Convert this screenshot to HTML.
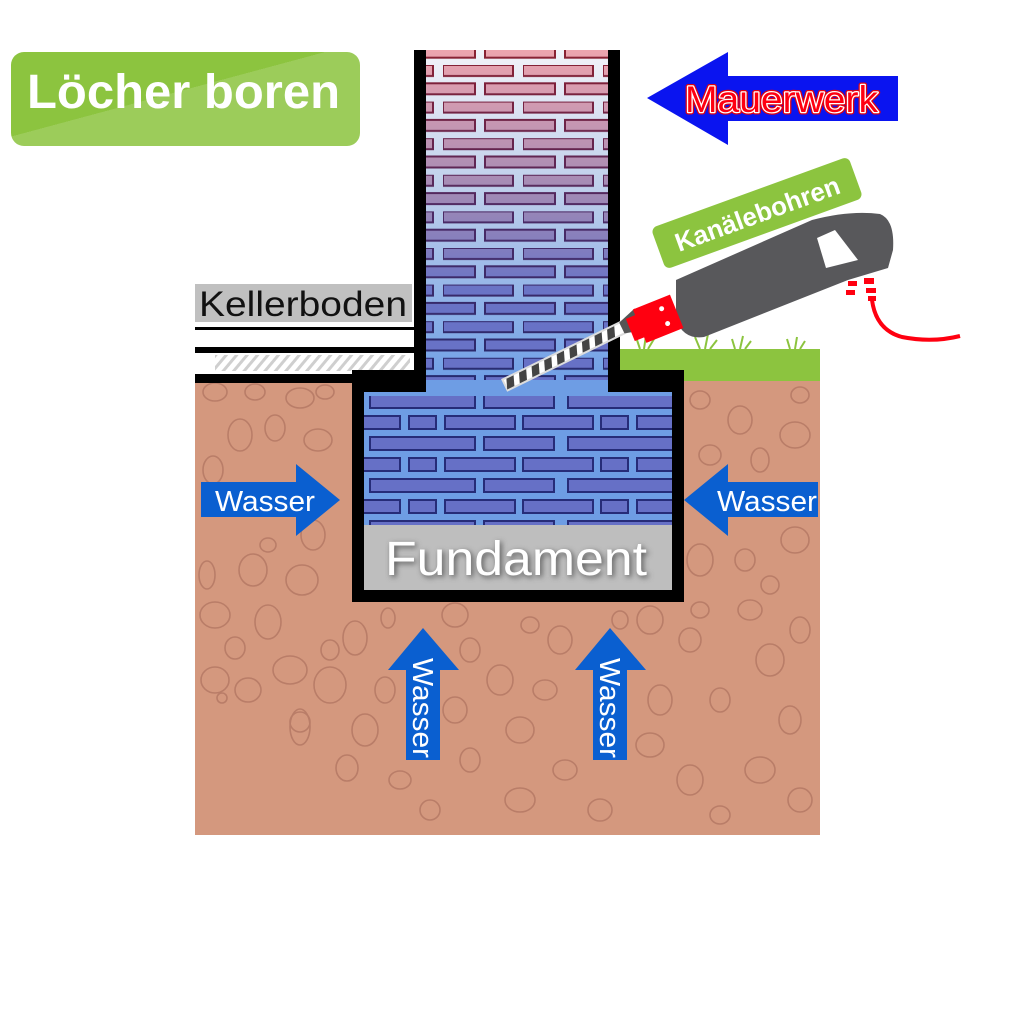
<!DOCTYPE html>
<html><head><meta charset="utf-8"><style>
html,body{margin:0;padding:0;background:#fff;}
svg{display:block;}
text{font-family:"Liberation Sans",sans-serif;}
</style></head><body>
<svg width="1024" height="1024" viewBox="0 0 1024 1024" xmlns="http://www.w3.org/2000/svg">
<defs>
<linearGradient id="mort" gradientUnits="userSpaceOnUse" x1="0" y1="50" x2="0" y2="390">
<stop offset="0" stop-color="#f2f2f8"/><stop offset="0.45" stop-color="#b9cbea"/><stop offset="1" stop-color="#6c9de6"/></linearGradient>
<linearGradient id="brk" gradientUnits="userSpaceOnUse" x1="0" y1="50" x2="0" y2="390">
<stop offset="0" stop-color="#eda4ae"/><stop offset="0.45" stop-color="#9c88b6"/><stop offset="0.7" stop-color="#6a74c6"/><stop offset="1" stop-color="#6670c6"/></linearGradient>
<linearGradient id="bst" gradientUnits="userSpaceOnUse" x1="0" y1="50" x2="0" y2="390">
<stop offset="0" stop-color="#8a1f30"/><stop offset="0.5" stop-color="#4a2a66"/><stop offset="1" stop-color="#232a70"/></linearGradient>
<pattern id="wp" patternUnits="userSpaceOnUse" x="443" y="65" width="80" height="36.6">
<rect x="0" y="0" width="70" height="11" fill="#fff"/>
<rect x="-38" y="18.3" width="70" height="11" fill="#fff"/>
<rect x="42" y="18.3" width="70" height="11" fill="#fff"/>
</pattern>
<pattern id="wps" patternUnits="userSpaceOnUse" x="443" y="65" width="80" height="36.6">
<rect x="0" y="0" width="70" height="11" fill="none" stroke="#fff" stroke-width="2"/>
<rect x="-38" y="18.3" width="70" height="11" fill="none" stroke="#fff" stroke-width="2"/>
<rect x="42" y="18.3" width="70" height="11" fill="none" stroke="#fff" stroke-width="2"/>
</pattern>
<mask id="m1"><rect x="0" y="0" width="1024" height="1024" fill="url(#wp)"/></mask>
<mask id="m2"><rect x="0" y="0" width="1024" height="1024" fill="url(#wps)"/></mask>
<pattern id="fp" patternUnits="userSpaceOnUse" x="364" y="392" width="310" height="42">
<g fill="#6670c6" stroke="#262c78" stroke-width="2">
<rect x="6" y="3" width="105" height="13"/><rect x="120" y="3" width="70" height="13"/><rect x="204" y="3" width="105" height="13"/>
<rect x="-4" y="24" width="40" height="13"/><rect x="45" y="24" width="27" height="13"/><rect x="81" y="24" width="70" height="13"/><rect x="159" y="24" width="70" height="13"/><rect x="237" y="24" width="27" height="13"/><rect x="273" y="24" width="40" height="13"/>
</g></pattern>
<pattern id="hatch" patternUnits="userSpaceOnUse" width="8" height="8" patternTransform="rotate(-50)">
<rect width="8" height="3" fill="#cfcfcf"/></pattern>
<linearGradient id="tg" x1="0" y1="0" x2="1" y2="1"><stop offset="0.45" stop-color="#8cc43f"/><stop offset="0.45" stop-color="#9ccc5a"/></linearGradient>
<filter id="sh"><feGaussianBlur stdDeviation="3"/></filter>
</defs>

<!-- Title -->
<rect x="11" y="52" width="349" height="94" rx="13" fill="url(#tg)"/>
<text x="27" y="108" font-size="48" font-weight="bold" fill="#fff" textLength="313" lengthAdjust="spacingAndGlyphs">Löcher boren</text>

<!-- Mauerwerk arrow -->
<polygon points="647,98 728,52 728,76 898,76 898,121 728,121 728,145" fill="#0a14f0"/>
<g font-size="37">
<text x="685" y="112" fill="#e00010" stroke="#e00010" stroke-width="5" stroke-linejoin="round" textLength="193" lengthAdjust="spacingAndGlyphs">Mauerwerk</text>
<text x="685" y="112" fill="#e00010" stroke="#fff" stroke-width="2.5" stroke-linejoin="round" textLength="193" lengthAdjust="spacingAndGlyphs">Mauerwerk</text>
<text x="685" y="112" fill="#ff0010" textLength="193" lengthAdjust="spacingAndGlyphs">Mauerwerk</text>
</g>

<!-- Soil -->
<rect x="195" y="378" width="625" height="457" fill="#d4987e"/>
<g fill="none" stroke="#b97d68" stroke-width="1.6">
<ellipse cx="215" cy="392" rx="12" ry="9"/><ellipse cx="255" cy="392" rx="10" ry="8"/><ellipse cx="300" cy="398" rx="14" ry="10"/><ellipse cx="325" cy="392" rx="9" ry="7"/>
<ellipse cx="240" cy="435" rx="12" ry="16"/><ellipse cx="275" cy="428" rx="10" ry="13"/><ellipse cx="318" cy="440" rx="14" ry="11"/><ellipse cx="213" cy="470" rx="10" ry="14"/>
<ellipse cx="313" cy="535" rx="12" ry="15"/><ellipse cx="268" cy="545" rx="8" ry="7"/><ellipse cx="253" cy="570" rx="14" ry="16"/><ellipse cx="302" cy="580" rx="16" ry="15"/>
<ellipse cx="207" cy="575" rx="8" ry="14"/><ellipse cx="215" cy="615" rx="15" ry="13"/><ellipse cx="268" cy="622" rx="13" ry="17"/><ellipse cx="235" cy="648" rx="10" ry="11"/>
<ellipse cx="290" cy="670" rx="17" ry="14"/><ellipse cx="330" cy="650" rx="9" ry="10"/><ellipse cx="355" cy="638" rx="12" ry="17"/><ellipse cx="215" cy="680" rx="14" ry="13"/>
<ellipse cx="248" cy="690" rx="13" ry="12"/><ellipse cx="330" cy="685" rx="16" ry="18"/><ellipse cx="222" cy="698" rx="5" ry="5"/><ellipse cx="300" cy="722" rx="10" ry="10"/>
<ellipse cx="300" cy="727" rx="10" ry="18"/><ellipse cx="365" cy="730" rx="13" ry="16"/><ellipse cx="347" cy="768" rx="11" ry="13"/><ellipse cx="385" cy="690" rx="10" ry="13"/>
<ellipse cx="388" cy="618" rx="7" ry="10"/><ellipse cx="455" cy="615" rx="13" ry="12"/><ellipse cx="470" cy="650" rx="10" ry="12"/><ellipse cx="500" cy="680" rx="13" ry="15"/>
<ellipse cx="455" cy="710" rx="12" ry="13"/><ellipse cx="470" cy="760" rx="10" ry="12"/><ellipse cx="520" cy="730" rx="14" ry="13"/><ellipse cx="545" cy="690" rx="12" ry="10"/>
<ellipse cx="560" cy="640" rx="12" ry="14"/><ellipse cx="530" cy="625" rx="9" ry="8"/><ellipse cx="565" cy="770" rx="12" ry="10"/><ellipse cx="520" cy="800" rx="15" ry="12"/>
<ellipse cx="650" cy="620" rx="13" ry="14"/><ellipse cx="690" cy="640" rx="11" ry="12"/><ellipse cx="700" cy="610" rx="9" ry="8"/><ellipse cx="660" cy="700" rx="12" ry="15"/>
<ellipse cx="650" cy="745" rx="14" ry="12"/><ellipse cx="690" cy="780" rx="13" ry="15"/><ellipse cx="720" cy="700" rx="10" ry="12"/><ellipse cx="770" cy="660" rx="14" ry="16"/>
<ellipse cx="800" cy="630" rx="10" ry="13"/><ellipse cx="750" cy="610" rx="12" ry="10"/><ellipse cx="790" cy="720" rx="11" ry="14"/><ellipse cx="760" cy="770" rx="15" ry="13"/>
<ellipse cx="800" cy="800" rx="12" ry="12"/><ellipse cx="720" cy="815" rx="10" ry="9"/><ellipse cx="700" cy="400" rx="10" ry="9"/><ellipse cx="740" cy="420" rx="12" ry="14"/>
<ellipse cx="795" cy="435" rx="15" ry="13"/><ellipse cx="710" cy="455" rx="11" ry="10"/><ellipse cx="760" cy="460" rx="9" ry="12"/><ellipse cx="800" cy="395" rx="9" ry="8"/>
<ellipse cx="700" cy="560" rx="13" ry="16"/><ellipse cx="745" cy="560" rx="10" ry="11"/><ellipse cx="795" cy="540" rx="14" ry="13"/><ellipse cx="770" cy="585" rx="9" ry="9"/>
<ellipse cx="400" cy="780" rx="11" ry="9"/><ellipse cx="430" cy="810" rx="10" ry="10"/><ellipse cx="600" cy="810" rx="12" ry="11"/><ellipse cx="620" cy="620" rx="8" ry="9"/>
</g>

<!-- Kellerboden -->
<rect x="195" y="284" width="217" height="38" fill="#c0c0c0"/>
<text x="199" y="316" font-size="35" fill="#111" textLength="208" lengthAdjust="spacingAndGlyphs">Kellerboden</text>
<rect x="195" y="327" width="220" height="3" fill="#000"/>
<rect x="195" y="347" width="220" height="6" fill="#000"/>
<rect x="215" y="355" width="195" height="16" fill="url(#hatch)"/>
<rect x="195" y="374" width="225" height="9" fill="#000"/>

<!-- Grass -->
<rect x="620" y="349" width="200" height="32" fill="#8cc43f"/>
<g stroke="#8cc43f" stroke-width="2" fill="none">
<path d="M640 349 l-4 -12 M644 349 l2 -14 M648 349 l6 -10 M700 349 l-5 -12 M705 349 l3 -15 M710 349 l7 -9 M735 349 l-3 -10 M740 349 l3 -13 M745 349 l6 -8 M790 349 l-3 -10 M795 349 l2 -12 M800 349 l5 -8"/>
</g>

<!-- Footing -->
<rect x="352" y="370" width="332" height="232" fill="#000"/>
<rect x="364" y="392" width="308" height="198" fill="#6e9de4"/>
<rect x="364" y="392" width="308" height="135" fill="url(#fp)"/>
<rect x="364" y="525" width="308" height="65" fill="#bebebe"/>
<text x="387" y="577" font-size="48" fill="#555" filter="url(#sh)" textLength="262" lengthAdjust="spacingAndGlyphs">Fundament</text>
<text x="385" y="575" font-size="48" fill="#fff" textLength="262" lengthAdjust="spacingAndGlyphs">Fundament</text>

<!-- Wall -->
<rect x="414" y="50" width="206" height="345" fill="#000"/>
<rect x="426" y="50" width="182" height="345" fill="url(#mort)"/>
<rect x="426" y="50" width="182" height="345" fill="url(#brk)" mask="url(#m1)"/>
<rect x="426" y="50" width="182" height="345" fill="url(#bst)" mask="url(#m2)"/>
<rect x="364" y="392" width="308" height="4" fill="#6e9de4"/>
<rect x="426" y="380" width="182" height="12" fill="#6e9de4"/>
<rect x="352" y="370" width="62" height="22" fill="#000"/>
<rect x="620" y="381" width="64" height="11" fill="#000"/>

<!-- Drill bit -->
<g transform="translate(505,385) rotate(-26)">
<rect x="0" y="-6" width="140" height="12" fill="#fff" stroke="#ddd" stroke-width="2"/>
<g fill="#444"><polygon points="4,-5 12,-5 8,5 0,5"/><polygon points="18,-5 26,-5 22,5 14,5"/><polygon points="32,-5 40,-5 36,5 28,5"/><polygon points="46,-5 54,-5 50,5 42,5"/><polygon points="60,-5 68,-5 64,5 56,5"/><polygon points="74,-5 82,-5 78,5 70,5"/><polygon points="88,-5 96,-5 92,5 84,5"/><polygon points="102,-5 110,-5 106,5 98,5"/><polygon points="116,-5 124,-5 120,5 112,5"/></g>
<polygon points="130,-6 150,-12 150,12 130,6" fill="#555"/>
</g>
<!-- Drill body -->
<path d="M676 280 L812 220 Q850 210 880 214 Q895 220 893 250 L888 268 L848 280 L704 337 Q684 340 676 320 Z" fill="#58585b"/>
<polygon points="817,238 835,230 858,260 826,268" fill="#fff"/>
<g transform="translate(660,318) rotate(-22)"><rect x="-22" y="-18" width="40" height="36" fill="#ff0010"/><rect x="-32" y="-12" width="12" height="24" fill="#ff0010"/><circle cx="5" cy="-8" r="2.5" fill="#fff"/><circle cx="5" cy="8" r="2.5" fill="#fff"/></g>
<g fill="#ff0010"><rect x="848" y="281" width="9" height="5"/><rect x="864" y="278" width="10" height="6"/><rect x="866" y="288" width="10" height="5"/><rect x="846" y="290" width="9" height="5"/><rect x="868" y="296" width="8" height="5"/></g>
<path d="M872 300 q4 30 30 37 q30 6 58 -1" fill="none" stroke="#ff0010" stroke-width="4"/>

<!-- Kanälebohren label -->
<g transform="translate(757,213) rotate(-20)">
<rect x="-105" y="-22" width="210" height="44" rx="6" fill="#8cc43f"/>
<text x="0" y="10" font-size="26" font-weight="bold" fill="#fff" text-anchor="middle">Kanälebohren</text>
</g>

<!-- Wasser arrows -->
<polygon points="201,482 296,482 296,464 340,500 296,536 296,517 201,517" fill="#0a5fd0"/>
<text x="215" y="511" font-size="29" fill="#fff" textLength="100" lengthAdjust="spacingAndGlyphs">Wasser</text>
<polygon points="818,482 728,482 728,464 684,500 728,536 728,517 818,517" fill="#0a5fd0"/>
<text x="717" y="511" font-size="29" fill="#fff" textLength="100" lengthAdjust="spacingAndGlyphs">Wasser</text>
<polygon points="406,760 406,670 388,670 423,628 459,670 440,670 440,760" fill="#0a5fd0"/>
<text transform="translate(413,658) rotate(90)" font-size="29" fill="#fff" textLength="100" lengthAdjust="spacingAndGlyphs">Wasser</text>
<polygon points="593,760 593,670 575,670 610,628 646,670 627,670 627,760" fill="#0a5fd0"/>
<text transform="translate(600,658) rotate(90)" font-size="29" fill="#fff" textLength="100" lengthAdjust="spacingAndGlyphs">Wasser</text>
</svg>
</body></html>
